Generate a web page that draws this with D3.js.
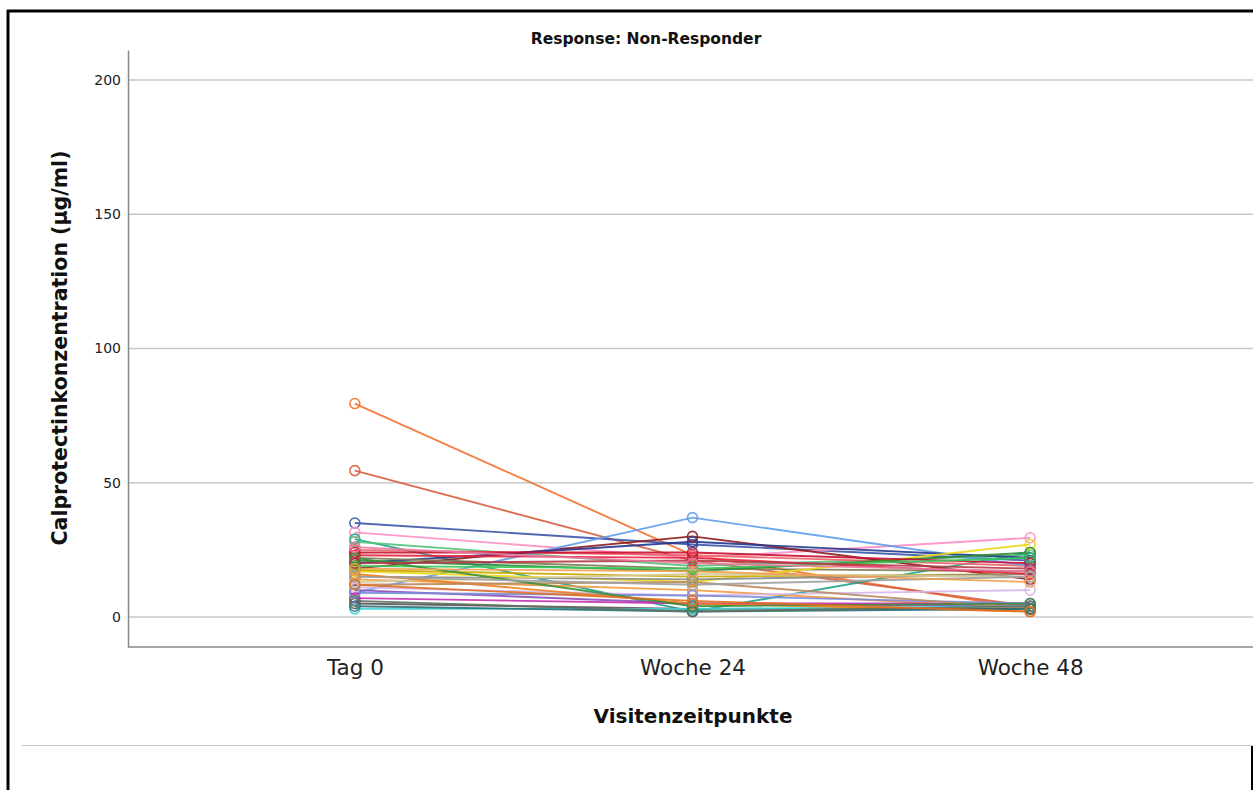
<!DOCTYPE html>
<html>
<head>
<meta charset="utf-8">
<script src="https://cdn.jsdelivr.net/npm/d3@7"></script>
<style>
  html, body { margin: 0; padding: 0; background: #fff; }
  svg { display: block; }
</style>
</head>
<body>
<svg id="chart" width="1253" height="790"></svg>
<script>
// Visit time points on the x axis
const visits = ["Tag 0", "Woche 24", "Woche 48"];
const yTicks = [0, 50, 100, 150, 200];

// Calprotectin per patient at each visit (µg/ml)
const tag0Values   = [79.5, 54.5, 35, 31.5, 29, 28, 25, 18, 9, 20, 22, 17, 17.5, 21, 15, 14, 10, 11, 7, 5, 3, 9, 23, 24, 13, 19, 16, 12, 4, 6, 22, 20, 26, 15, 18, 12];
const woche24Values = [23, 21, 27, 22, 2, 19, 23, 30, 37, 28, 18, 13, 15, 17, 14, 10, 5, 8, 5, 3, 3, 8, 22, 24, 16, 18, 5, 13, 2, 2, 4, 21, 20, 12, 17, 6];
const woche48Values = [3, 4, 21, 29.5, 24, 23, 19, 14, 19, 22, 17, 27, 16, 24, 16, 3, 4, 10, 5, 3, 4, 5, 16, 20, 15, 22, 2, 3, 3, 4, 5, 18, 17, 15, 13, 2];
const patientColors = ["#f4712f", "#d75f3f", "#3d55a8", "#ff8ec4", "#19a38c", "#54c27a", "#f0606a", "#8e1b1e", "#5d9ded", "#24378c", "#7c7c52", "#ecd81a", "#c8a800", "#2e8b3a", "#888888", "#f39a3c", "#8b4fb8", "#d7b7ee", "#c42fb0", "#555555", "#3fd3d6", "#7b8bd8", "#e8213c", "#c8102e", "#d3c99a", "#36c95a", "#ef7f1a", "#b88a60", "#2a6f78", "#607060", "#3a8f3a", "#b23a48", "#e87aa0", "#a0a0a0", "#f0a050", "#e07020"];

const svg = d3.select("#chart");
const W = 1253, H = 790;

// Outer frame
svg.append("rect").attr("x", 0).attr("y", 0).attr("width", W).attr("height", H).attr("fill", "#fff");
svg.append("line").attr("x1", 7).attr("x2", W).attr("y1", 11).attr("y2", 11)
  .attr("stroke", "#000").attr("stroke-width", 3);
svg.append("line").attr("x1", 8).attr("x2", 8).attr("y1", 10).attr("y2", H)
  .attr("stroke", "#000").attr("stroke-width", 3);
svg.append("line").attr("x1", 1252).attr("x2", 1252).attr("y1", 745).attr("y2", H)
  .attr("stroke", "#000").attr("stroke-width", 2);
svg.append("line").attr("x1", 22).attr("x2", W).attr("y1", 745.5).attr("y2", 745.5)
  .attr("stroke", "#c4c4c4").attr("stroke-width", 1);

const plotLeft = 128, plotRight = 1253, plotTop = 50, plotBottom = 647;

const x = d3.scalePoint().domain(visits).range([plotLeft + 4, plotRight]).padding(0.66);
const y = d3.scaleLinear().domain([-11.2, 211.2]).range([plotBottom, plotTop]);

// Gridlines
svg.append("g").selectAll("line").data(yTicks).join("line")
  .attr("x1", plotLeft).attr("x2", plotRight)
  .attr("y1", d => y(d)).attr("y2", d => y(d))
  .attr("stroke", "#c8c8c8").attr("stroke-width", 1.6);

// Y axis
const yAxis = svg.append("g").attr("transform", `translate(${plotLeft},0)`)
  .call(d3.axisLeft(y).tickValues(yTicks).tickSize(0).tickPadding(7));
yAxis.select(".domain").attr("stroke", "#888").attr("stroke-width", 1.5);
yAxis.selectAll("text").attr("font-family", "DejaVu Sans, sans-serif")
  .attr("font-size", 14).attr("fill", "#222");

// X axis
const xAxis = svg.append("g").attr("transform", `translate(0,${plotBottom})`)
  .call(d3.axisBottom(x).tickSize(0).tickPadding(13));
xAxis.select(".domain").attr("stroke", "#888").attr("stroke-width", 1.5)
  .attr("d", `M${plotLeft},0H${plotRight}`);
xAxis.selectAll("text").attr("font-family", "DejaVu Sans, sans-serif")
  .attr("font-size", 21.5).attr("fill", "#222");

// Titles
svg.append("text").attr("x", 646).attr("y", 44).attr("text-anchor", "middle")
  .attr("font-family", "DejaVu Sans, sans-serif").attr("font-weight", "bold")
  .attr("font-size", 15.5).attr("fill", "#111").text("Response: Non-Responder");
svg.append("text").attr("transform", `translate(67,348) rotate(-90)`)
  .attr("text-anchor", "middle")
  .attr("font-family", "DejaVu Sans, sans-serif").attr("font-weight", "bold")
  .attr("font-size", 20.5).attr("fill", "#111").text("Calprotectinkonzentration (µg/ml)");
svg.append("text").attr("x", 693).attr("y", 723).attr("text-anchor", "middle")
  .attr("font-family", "DejaVu Sans, sans-serif").attr("font-weight", "bold")
  .attr("font-size", 20).attr("fill", "#111").text("Visitenzeitpunkte");

// One series per patient
const patients = tag0Values.map((v, i) => ({
  color: patientColors[i],
  values: [v, woche24Values[i], woche48Values[i]].map((val, j) => ({ visit: visits[j], value: val }))
}));

const line = d3.line().x(d => x(d.visit)).y(d => y(d.value));
const g = svg.append("g");
g.selectAll("path.patient").data(patients).join("path")
  .attr("class", "patient")
  .attr("d", d => line(d.values))
  .attr("fill", "none").attr("stroke", d => d.color)
  .attr("stroke-width", 1.9).attr("stroke-opacity", 0.9);

patients.forEach(p => {
  g.selectAll(null).data(p.values).join("circle")
    .attr("cx", d => x(d.visit)).attr("cy", d => y(d.value)).attr("r", 5)
    .attr("fill", "none").attr("stroke", p.color).attr("stroke-width", 1.6)
    .attr("stroke-opacity", 0.9);
});
</script>
</body>
</html>
